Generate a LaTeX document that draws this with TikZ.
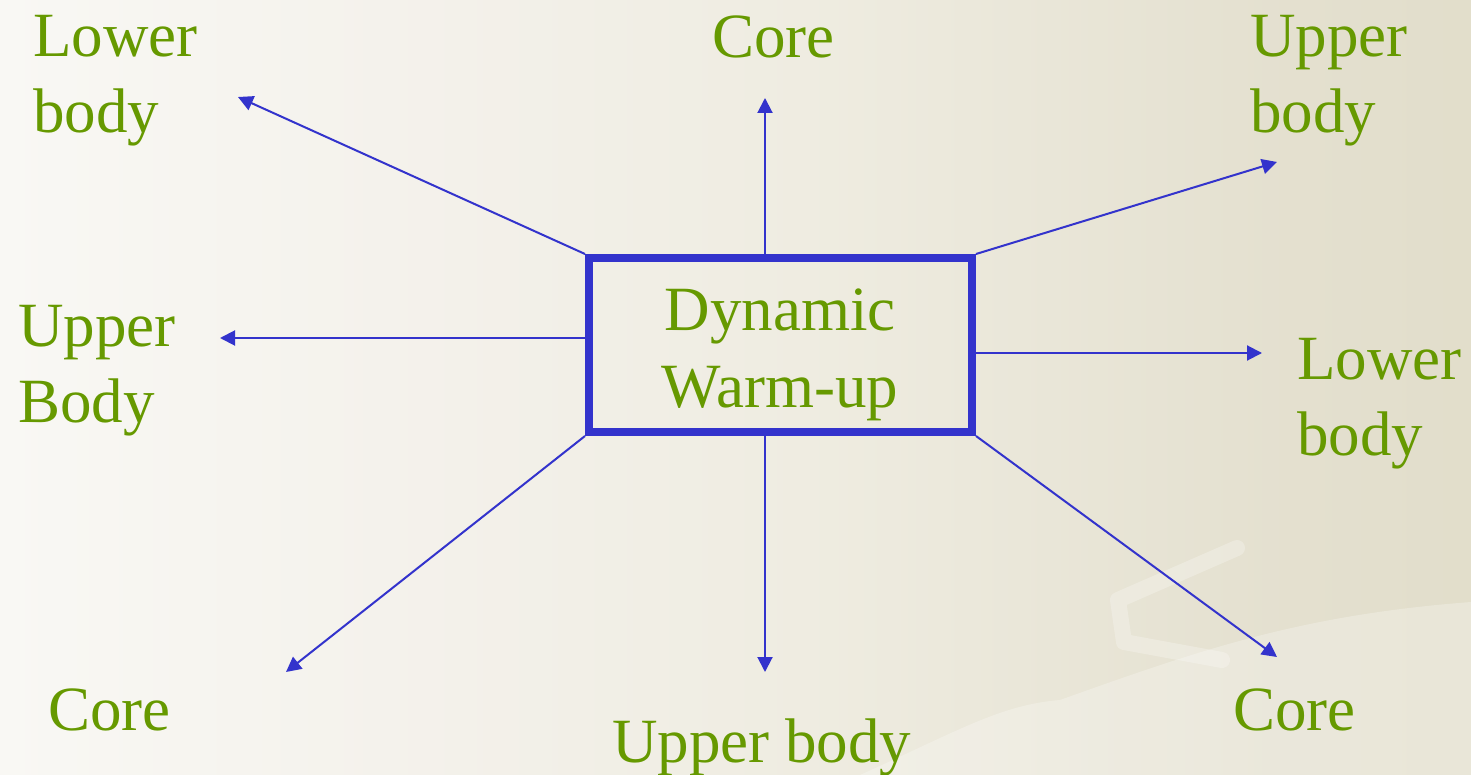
\documentclass[tikz,border=0pt]{standalone}
\usepackage{fontspec}
\setmainfont{Liberation Serif}
\usetikzlibrary{arrows.meta}

\definecolor{labelgreen}{RGB}{102,153,0}
\definecolor{linkblue}{RGB}{51,51,204}

% soft white-to-khaki slide background
\pgfdeclarehorizontalshading{slidebg}{100bp}{
  rgb(0bp)=(1,1,1);
  rgb(14bp)=(0.992,0.992,0.985);
  rgb(40bp)=(0.955,0.945,0.92);
  rgb(53bp)=(0.935,0.925,0.88);
  rgb(68bp)=(0.895,0.88,0.815);
  rgb(100bp)=(0.85,0.83,0.725)}

\tikzset{
  lbl/.style={inner sep=0pt, anchor=base west, align=left, text=labelgreen,
              font=\fontsize{63}{76}\selectfont},
  link/.style={draw=linkblue, line width=2pt,
               -{Triangle[length=15pt,width=15pt]}},
  hubbox/.style={draw=linkblue, line width=8pt, inner sep=0pt,
                 minimum width=383pt, minimum height=174pt}
}

\begin{document}
\begin{tikzpicture}[x=1pt,y=-1pt]
  \useasboundingbox (0,0) rectangle (1471,775);
  % background
  \shade[shading=slidebg] (0,0) rectangle (1471,775);
  \fill[white, opacity=0.25]
    (860,775) .. controls (960,730) and (1000,705) .. (1060,700)
    .. controls (1200,650) and (1300,615) .. (1471,602) -- (1471,775) -- cycle;
  \draw[white, opacity=0.25, line width=16pt, line cap=round, line join=round]
    (1237,548) -- (1118,600) -- (1124,642) -- (1222,660);

  % central box and its title (base anchor sits on the last line)
  \node[hubbox] (box) at (780.5,345) {};
  \node[inner sep=0pt, anchor=base, align=center, text=labelgreen,
        font=\fontsize{63}{77}\selectfont] (title) at (780,407) {Dynamic\\Warm-up};

  % outer labels
  \node[lbl] (ulLabel) at (33,133) {Lower\\body};
  \node[lbl] (topLabel) at (712,58) {Core};
  \node[lbl] (urLabel) at (1250,133) {Upper\\body};
  \node[lbl] (leftLabel) at (18,422) {Upper\\Body};
  \node[lbl] (rightLabel) at (1297,455) {Lower\\body};
  \node[lbl] (dlLabel) at (48,730) {Core};
  \node[lbl] (downLabel) at (612,762) {Upper body};
  \node[lbl] (drLabel) at (1233,730) {Core};

  % arrow end points
  \coordinate (ulEnd) at (238,97);
  \coordinate (topEnd) at (765,98);
  \coordinate (urEnd) at (1277,162);
  \coordinate (leftEnd) at (220,338);
  \coordinate (rightEnd) at (1262,353);
  \coordinate (dlEnd) at (286,672);
  \coordinate (downEnd) at (765,672);
  \coordinate (drEnd) at (1277,657);

  % connectors from the box
  \draw[link] (box.north west) -- (ulEnd);
  \draw[link] (box.north -| topEnd) -- (topEnd);
  \draw[link] (box.north east) -- (urEnd);
  \draw[link] (box.west |- leftEnd) -- (leftEnd);
  \draw[link] (box.east |- rightEnd) -- (rightEnd);
  \draw[link] (box.south west) -- (dlEnd);
  \draw[link] (box.south -| downEnd) -- (downEnd);
  \draw[link] (box.south east) -- (drEnd);
\end{tikzpicture}
\end{document}
